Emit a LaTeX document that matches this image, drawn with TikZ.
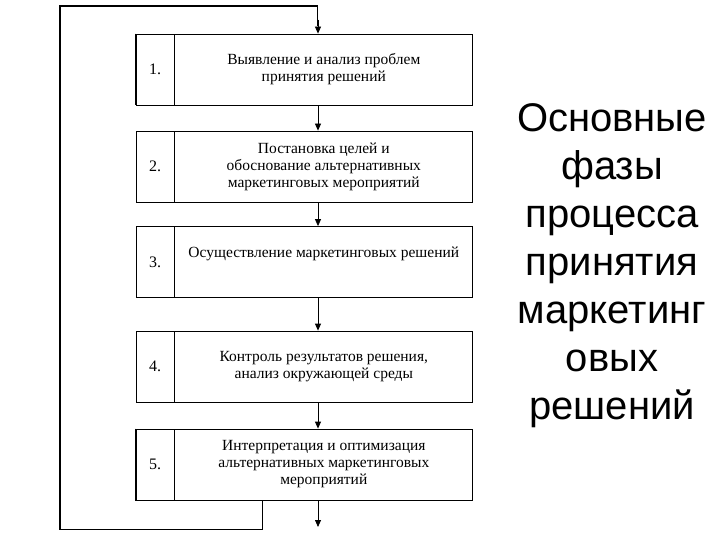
\documentclass[tikz,border=0pt]{standalone}
\usepackage{fontspec}
\setmainfont{Liberation Serif}
\newfontfamily\titlefont{Liberation Sans}
\usetikzlibrary{arrows.meta}
\usetikzlibrary{positioning}

\begin{document}
\begin{tikzpicture}[
 x=1bp, y=-1bp,
 numcell/.style = {
    rectangle,
    draw=black,
    line width=0.8bp,
    minimum width=38bp,
    minimum height=71bp,
    inner sep=0pt,
    font=\fontsize{16bp}{18bp}\selectfont},
 textcell/.style = {
    rectangle,
    draw=black,
    line width=0.8bp,
    minimum width=298bp,
    minimum height=71bp,
    inner sep=0pt,
    align=center,
    font=\fontsize{15.5bp}{17bp}\selectfont},
 flow/.style = {-{Triangle[length=7bp,width=6bp]}, line width=0.8bp, black},
 backline/.style = {line width=1.8bp, black},
 node distance = 0bp
 ]
\useasboundingbox (0,0) rectangle (720,540);

\node(n1)[numcell] at (155,69.5) {1.};
\node(t1)[textcell,right=of n1]{Выявление и анализ проблем\\принятия решений};
\node(n2)[numcell] at (155,166.5) {2.};
\node(t2)[textcell,right=of n2]{Постановка целей и\\обоснование альтернативных\\маркетинговых мероприятий};
\node(n3)[numcell] at (155,262) {3.};
\node(t3)[textcell,right=of n3]{Осуществление маркетинговых решений\\[2bp]\mbox{}};
\node(n4)[numcell] at (155,366.5) {4.};
\node(t4)[textcell,right=of n4]{Контроль результатов решения,\\анализ окружающей среды};
\node(n5)[numcell] at (155,464.5) {5.};
\node(t5)[textcell,right=of n5]{Интерпретация и оптимизация\\альтернативных маркетинговых\\мероприятий};

% thick left edges
\draw[line width=1.6bp] (n1.north west) -- (n1.south west);
\draw[line width=1.6bp] (n5.north west) -- (n5.south west) -- (t5.south east);

\coordinate (axis) at (318,0);
\coordinate (out) at (318,527);
\coordinate (loop) at ([xshift=88bp]t5.south west);

\draw[flow] (t1.south -| axis) -- (t2.north -| axis);
\draw[flow] (t2.south -| axis) -- (t3.north -| axis);
\draw[flow] (t3.south -| axis) -- (t4.north -| axis);
\draw[flow] (t4.south -| axis) -- (t5.north -| axis);
\draw[flow] (t5.south -| axis) -- (out);

% feedback
\draw[backline] (loop) -- ++(0,29) -| (60,6) -| ([xshift=-0.5bp,yshift=8bp]n1.north -| axis);
\draw[flow] ([yshift=14bp]n1.north -| axis) -- (n1.north -| axis);

\node(title)[align=center,font=\titlefont\fontsize{40bp}{48bp}\selectfont] at (612,266)
 {Основные\\фазы\\процесса\\принятия\\маркетинг\\овых\\решений};

\end{tikzpicture}
\end{document}
